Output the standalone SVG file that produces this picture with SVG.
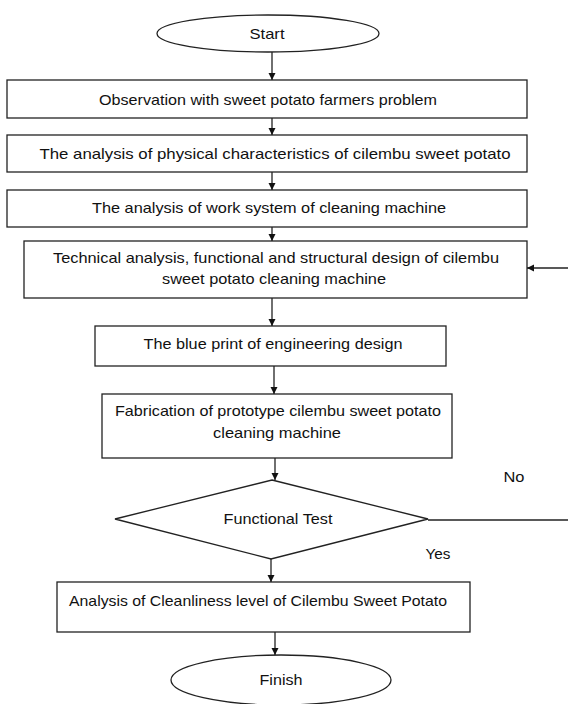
<svg xmlns="http://www.w3.org/2000/svg" width="568" height="704" viewBox="0 0 568 704">
<style>
.n{fill:#fff;stroke:#222;stroke-width:1.3}
.t{font-family:"Liberation Sans",Arial,sans-serif;font-size:15px;fill:#111;text-anchor:middle;dominant-baseline:central}
.c{fill:none;stroke:#222;stroke-width:1.3}
</style>
<defs>
<marker id="ah" markerWidth="8" markerHeight="8" refX="7" refY="4" orient="auto" markerUnits="userSpaceOnUse">
<path d="M0,0.5 L7,4 L0,7.5 Z" fill="#111"/>
</marker>
</defs>
<rect width="568" height="704" fill="#fff"/>
<g id="start"><ellipse class="n" cx="268" cy="33.5" rx="111" ry="18.5"/><text class="t" x="267" y="33" textLength="35" lengthAdjust="spacingAndGlyphs">Start</text></g>
<g id="n1"><rect class="n" x="7" y="80" width="520" height="38"/><text class="t" x="268" y="99" textLength="338" lengthAdjust="spacingAndGlyphs">Observation with sweet potato farmers problem</text></g>
<g id="n2"><rect class="n" x="7" y="135" width="520" height="37"/><text class="t" x="275" y="153" textLength="471" lengthAdjust="spacingAndGlyphs">The analysis of physical characteristics of cilembu sweet potato</text></g>
<g id="n3"><rect class="n" x="7" y="190" width="520" height="37"/><text class="t" x="269" y="207" textLength="354" lengthAdjust="spacingAndGlyphs">The analysis of work system of cleaning machine</text></g>
<g id="n4"><rect class="n" x="24" y="241" width="503" height="57"/><text class="t" x="276" y="257" textLength="446" lengthAdjust="spacingAndGlyphs">Technical analysis, functional and structural design of cilembu</text><text class="t" x="274" y="278" textLength="224" lengthAdjust="spacingAndGlyphs">sweet potato cleaning machine</text></g>
<g id="n5"><rect class="n" x="95" y="326" width="351" height="40"/><text class="t" x="273" y="343" textLength="259" lengthAdjust="spacingAndGlyphs">The blue print of engineering design</text></g>
<g id="n6"><rect class="n" x="102" y="394" width="350" height="64"/><text class="t" x="278" y="410" textLength="326" lengthAdjust="spacingAndGlyphs">Fabrication of prototype cilembu sweet potato</text><text class="t" x="277" y="432" textLength="128" lengthAdjust="spacingAndGlyphs">cleaning machine</text></g>
<g id="d1"><polygon class="n" points="272,480 428,519 271,559 115,519"/><text class="t" x="278" y="518" textLength="109" lengthAdjust="spacingAndGlyphs">Functional Test</text></g>
<g id="n7"><rect class="n" x="57" y="582" width="413" height="50"/><text class="t" x="258" y="600" textLength="378" lengthAdjust="spacingAndGlyphs">Analysis of Cleanliness level of Cilembu Sweet Potato</text></g>
<g id="finish"><ellipse class="n" cx="281" cy="680" rx="110" ry="25"/><text class="t" x="281" y="679" textLength="43" lengthAdjust="spacingAndGlyphs">Finish</text></g>
<g id="connectors">
<line class="c" x1="272" y1="52" x2="272" y2="80" marker-end="url(#ah)"/>
<line class="c" x1="272" y1="118" x2="272" y2="135" marker-end="url(#ah)"/>
<line class="c" x1="272" y1="172" x2="272" y2="190" marker-end="url(#ah)"/>
<line class="c" x1="272" y1="227" x2="272" y2="241" marker-end="url(#ah)"/>
<line class="c" x1="568" y1="268" x2="527" y2="268" marker-end="url(#ah)"/>
<line class="c" x1="272" y1="298" x2="272" y2="326" marker-end="url(#ah)"/>
<line class="c" x1="274" y1="366" x2="274" y2="394" marker-end="url(#ah)"/>
<line class="c" x1="275" y1="458" x2="275" y2="480" marker-end="url(#ah)"/>
<line class="c" x1="428" y1="520" x2="568" y2="520"/>
<line class="c" x1="271" y1="559" x2="271" y2="582" marker-end="url(#ah)"/>
<line class="c" x1="275" y1="632" x2="275" y2="655" marker-end="url(#ah)"/>
<text class="t" x="514" y="476" textLength="21" lengthAdjust="spacingAndGlyphs">No</text>
<text class="t" x="438" y="553" textLength="25" lengthAdjust="spacingAndGlyphs">Yes</text>
</g>
</svg>
